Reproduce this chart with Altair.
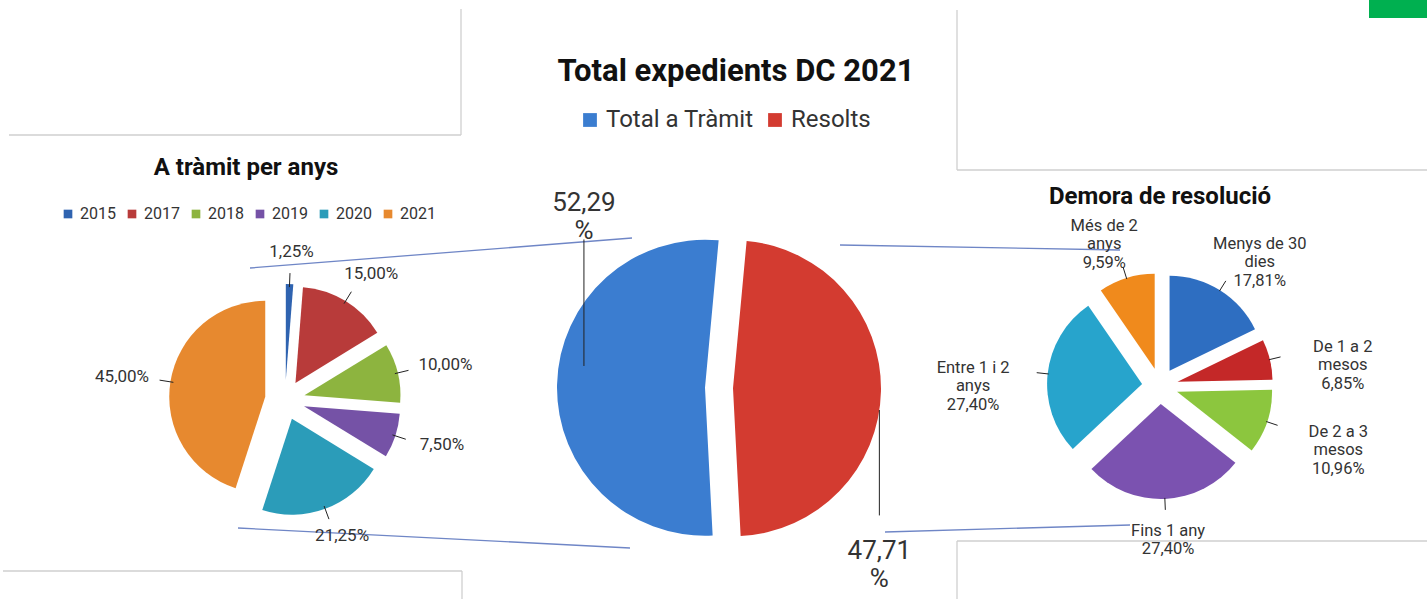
import math
import textwrap
import altair as alt
import pandas as pd

# ---------------- data ----------------
YEARS = ["2015", "2017", "2018", "2019", "2020", "2021"]
YEAR_PCT = [1.25, 15.00, 10.00, 7.50, 21.25, 45.00]

TOTAL_CATS = ["Total a Tràmit", "Resolts"]
TOTAL_PCT = [52.29, 47.71]

DELAY_CATS = ["Menys de 30 dies", "De 1 a 2 mesos", "De 2 a 3 mesos",
              "Fins 1 any", "Entre 1 i 2 anys", "Més de 2 anys"]
DELAY_PCT = [17.81, 6.85, 10.96, 27.40, 27.40, 9.59]

MAIN_TITLE = "Total expedients DC 2021"
LEFT_TITLE = "A tràmit per anys"
RIGHT_TITLE = "Demora de resolució"

# ---------------- style ----------------
FONT = "Roboto"
YEAR_COLORS = ["#2f63b0", "#b83b3a", "#8db43f", "#7552a6", "#2b9cb9", "#e7892f"]
TOTAL_COLORS = ["#3b7dd0", "#d33b30"]
DELAY_COLORS = ["#2e6ec1", "#c42828", "#8cc63e", "#7b52b0", "#27a4cc", "#f08a1c"]

# decorative frame / connector segments (x, y, x2, y2, colour)
DECOR = [
    (9, 135, 461, 135, "#cfcfcf"), (461, 9, 461, 135, "#cfcfcf"),
    (957, 10, 957, 170, "#cfcfcf"), (957, 170, 1427, 170, "#cfcfcf"),
    (3, 571, 462, 571, "#cfcfcf"), (462, 571, 462, 599, "#cfcfcf"),
    (957, 541, 1427, 541, "#cfcfcf"), (957, 541, 957, 599, "#cfcfcf"),
    (250, 268, 632, 238, "#6f86c6"), (238, 528, 630, 548, "#6f86c6"),
    (840, 245, 1120, 250, "#6f86c6"), (885, 532, 1130, 525, "#6f86c6"),
]


def make_df(cats, vals, labels=None):
    d = pd.DataFrame({"cat": cats, "v": vals, "i": list(range(len(cats)))})
    d["name"] = labels if labels is not None else cats
    return d


def pie(df, cx, cy, r, e, rot, lrx, lry_top, lry_bot, label_angle, label_expr,
        colors, legend, font_size, leader):
    base = (
        alt.Chart(df)
        .transform_joinaggregate(total="sum(v)")
        .transform_window(cum="sum(v)", sort=[alt.SortField("i", order="ascending")],
                          frame=[None, 0])
        .transform_calculate(
            f0="(datum.cum - datum.v) / datum.total",
            f1="datum.cum / datum.total",
            mid=f"{rot} + PI * (datum.f0 + datum.f1)",
            aend=f"{rot} + 2 * PI * datum.f1",
            px=f"{cx} + {e} * sin(datum.mid)",
            py=f"{cy} - {e} * cos(datum.mid)",
            la=label_angle,
            lx=f"{cx} + {lrx} * sin(datum.la)",
            ly=f"{cy} - cos(datum.la) * (cos(datum.la) > 0 ? {lry_top} : {lry_bot})",
            pct="replace(format(datum.v, '.2f'), '.', ',')",
            lab=label_expr,
        )
    )
    arcs = base.mark_arc(outerRadius=r).encode(
        theta=alt.Theta("f0:Q", stack=None,
                        scale=alt.Scale(domain=[0, 1], range=[rot, rot + 2 * math.pi])),
        theta2="f1:Q",
        x=alt.X("px:Q", scale=None, axis=None),
        y=alt.Y("py:Q", scale=None, axis=None),
        color=alt.Color("cat:N", scale=alt.Scale(domain=list(df["cat"]), range=colors),
                        legend=legend),
    )
    texts = base.mark_text(font=FONT, fontSize=font_size, color="#333333",
                           lineBreak="\n", align="center", baseline="middle").encode(
        x=alt.X("lx:Q", scale=None, axis=None),
        y=alt.Y("ly:Q", scale=None, axis=None),
        text="lab:N",
    )
    lines = base.transform_calculate(**leader).mark_rule(color="#222222", strokeWidth=1).encode(
        x=alt.X("ax:Q", scale=None, axis=None),
        y=alt.Y("ay:Q", scale=None, axis=None),
        x2="bx:Q",
        y2="by:Q",
    )
    return [arcs, lines, texts]


def radial_leader(cx, cy, r0, r1):
    return dict(
        ax=f"{cx} + {r0} * sin(datum.mid)", ay=f"{cy} - {r0} * cos(datum.mid)",
        bx=f"{cx} + {r1} * sin(datum.mid)", by=f"{cy} - {r1} * cos(datum.mid)",
    )


# ---- left pie: A tràmit per anys ----
LCX, LCY = 285, 400
left_df = make_df(YEARS, YEAR_PCT)
left_legend = alt.Legend(orient="none", legendX=60, legendY=206, direction="horizontal",
                         title=None, symbolType="square", symbolSize=75,
                         labelFont=FONT, labelFontSize=16, labelColor="#333333",
                         columnPadding=8, labelOffset=4, symbolStrokeWidth=0)
left = pie(left_df, LCX, LCY, 96, 20, 0, 165, 148, 145, "datum.mid",
           "datum.pct + '%'", YEAR_COLORS, left_legend, 17,
           radial_leader(LCX, LCY, 113, 127))

# ---- centre pie: Total ----
CCX, CCY = 719, 388
center_df = make_df(TOTAL_CATS, TOTAL_PCT)
center_legend = alt.Legend(orient="none", legendX=578, legendY=108, direction="horizontal",
                           title=None, symbolType="square", symbolSize=190,
                           labelFont=FONT, labelFontSize=24, labelColor="#333333",
                           columnPadding=9, labelOffset=4, symbolStrokeWidth=0)
center_leader = dict(
    ax="datum.lx", bx="datum.lx",
    ay=f"datum.ly + ({CCY} > datum.ly ? 36 : -36)",
    by=f"{CCY} + ({CCY} > datum.ly ? -22 : 22)",
)
center = pie(center_df, CCX, CCY, 148, 14, 3.09, 230, 228, 228, "datum.aend - 0.72",
             "datum.pct + '\\n%'", TOTAL_COLORS, center_legend, 26, center_leader)

# ---- right pie: Demora de resolució ----
RCX, RCY = 1160, 386
wrapped = ["\n".join(textwrap.wrap(c, 11)) for c in DELAY_CATS]
right_df = make_df(DELAY_CATS, DELAY_PCT, wrapped)
right = pie(right_df, RCX, RCY, 95, 18, 0, 188, 168, 145, "datum.mid",
            "datum.name + '\\n' + datum.pct + '%'", DELAY_COLORS, None, 16.5,
            radial_leader(RCX, RCY, 112, 124))

# ---- titles ----
titles_df = pd.DataFrame({"t": [MAIN_TITLE, LEFT_TITLE, RIGHT_TITLE],
                          "k": ["main", "left", "right"]})


def title_layer(key, x, y, size):
    return alt.Chart(titles_df).transform_filter(f"datum.k == '{key}'").mark_text(
        font=FONT, fontSize=size, fontWeight="bold", color="#111111",
        align="center", baseline="middle").encode(
        x=alt.value(x), y=alt.value(y), text="t:N")


titles = [title_layer("main", 736, 72, 31),
          title_layer("left", 246, 168, 24),
          title_layer("right", 1160, 197, 24)]

# ---- decorations ----
decor_df = pd.DataFrame(DECOR, columns=["x", "y", "x2", "y2", "c"])
decor = alt.Chart(decor_df).mark_rule(strokeWidth=1.3).encode(
    x=alt.X("x:Q", scale=None, axis=None),
    y=alt.Y("y:Q", scale=None, axis=None),
    x2="x2:Q", y2="y2:Q",
    color=alt.Color("c:N", scale=None, legend=None),
)
green = alt.Chart(pd.DataFrame({"k": [0]})).mark_rect(color="#00b050").encode(
    x=alt.value(1369), x2=alt.value(1427), y=alt.value(0), y2=alt.value(18))

chart = alt.layer(
    decor, green, *left, *center, *right, *titles
).resolve_scale(
    color="independent", theta="independent"
).resolve_legend(
    color="independent"
).properties(
    width=1427, height=599,
    autosize=alt.AutoSizeParams(type="none"),
    padding=0,
    background="white",
).configure_view(stroke=None)

chart.save("out.html", embed_options={"renderer": "svg", "actions": False})
